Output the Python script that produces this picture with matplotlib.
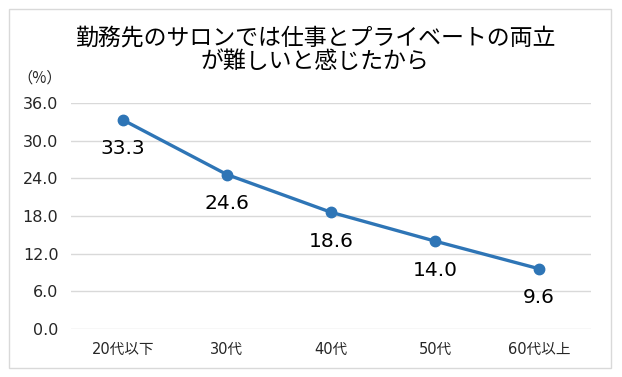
import matplotlib
matplotlib.use("Agg")
import matplotlib.pyplot as plt
from matplotlib.patches import Rectangle

plt.rcParams['font.family'] = ['DejaVu Sans', 'Noto Sans CJK JP']

categories = ['20代以下', '30代', '40代', '50代', '60代以上']
values = [33.3, 24.6, 18.6, 14.0, 9.6]
yticks = [0, 6, 12, 18, 24, 30, 36]
title = '勤務先のサロンでは仕事とプライベートの両立\nが難しいと感じたから'

fig = plt.figure(figsize=(6.22, 3.77), dpi=100)
ax = fig.add_axes([0.1141, 0.1273, 0.836, 0.5995])

# outer frame
fig.patches.append(Rectangle((9 / 622, 1 - 368 / 377), 602 / 622, 359 / 377,
                             transform=fig.transFigure, fill=False,
                             edgecolor='#d9d9d9', linewidth=1))

x = range(len(categories))
ax.plot(x, values, color='#2e75b6', linewidth=2.4, marker='o', markersize=7.5)
for i, v in zip(x, values):
    ax.annotate(f'{v:.1f}', (i, v), xytext=(0, -29), textcoords='offset pixels',
                ha='center', va='center', fontsize=14.5, color='#000000')

ax.set_xlim(-0.5, len(categories) - 0.5)
ax.set_ylim(0, 36)
ax.set_yticks(yticks)
ax.set_yticklabels([f'{t:.1f}' for t in yticks], fontsize=11.5)
ax.set_xticks(list(x))
ax.set_xticklabels(categories, fontsize=10.5)
ax.tick_params(length=0, colors='#262626')
ax.tick_params(axis='y', pad=9)
ax.tick_params(axis='x', pad=9)
ax.grid(axis='y', color='#d9d9d9', linewidth=1)
ax.set_axisbelow(True)
for s in ax.spines.values():
    s.set_visible(False)

fig.text(315 / 622, 1 - 50 / 377, title, ha='center', va='center',
         fontsize=16.5, linespacing=1.05, color='#000000',
         family=['Noto Sans CJK JP', 'DejaVu Sans'])
fig.text(40 / 622, 1 - 78 / 377, '（%）', ha='center', va='center',
         fontsize=11, color='#262626', family=['Noto Sans CJK JP', 'DejaVu Sans'])

fig.savefig('out.png', dpi=100)
